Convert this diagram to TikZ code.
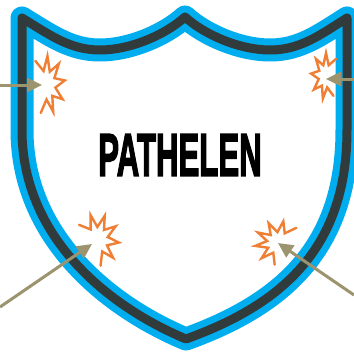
\documentclass[tikz,border=0pt]{standalone}
\usepackage{fontspec}
\usetikzlibrary{arrows.meta}
\newfontfamily\titlefont{Liberation Sans}[BoldFeatures={FakeBold=3}]
\definecolor{shieldblue}{HTML}{00AEEF}
\definecolor{shielddark}{HTML}{323B3B}
\definecolor{burstorange}{HTML}{EE7F35}
\definecolor{arrowolive}{HTML}{9B946E}
\tikzset{
  outerline/.style={draw=shieldblue,line width=23pt,line join=round,line cap=round},
  innerline/.style={draw=shielddark,line width=9pt,line join=round,line cap=round},
  burst/.style={draw=burstorange,line width=2.4pt,line join=miter,line cap=round},
  hitarrow/.style={draw=arrowolive,line width=3pt,-{Triangle[length=15pt,width=14pt]}},
}
\newcommand{\starburst}[6]{% cx cy rx ry start sweep
  \draw[burst] plot[samples at={0,...,12},variable=\t]
   ({#1+(mod(\t,2)==0 ? 1 : 0.5)*#3*cos(#5+\t*#6/12)},
    {#2+(mod(\t,2)==0 ? 1 : 0.5)*#4*sin(#5+\t*#6/12)});
}
\begin{document}
\begin{tikzpicture}[x=1pt,y=-1pt]
\useasboundingbox (0,0) rectangle (354,354);
\fill[white] (0,0) rectangle (354,354);
\def\shieldpath{(22,18) .. controls (50,35) and (70,50) .. (100,50)
  .. controls (130,50) and (165,35) .. (185,17)
  .. controls (205,35) and (240,50) .. (270,50)
  .. controls (300,50) and (320,35) .. (347,18)
  -- (347,130) .. controls (347,250) and (280,305) .. (186,339)
  .. controls (105,305) and (22,235) .. (22,130) -- cycle}
\path[outerline] \shieldpath;
\path[innerline] \shieldpath;
\node (title) at (180,155) {\titlefont\bfseries\fontsize{60}{64}\selectfont\scalebox{0.52}[1]{PATHELEN}};
\starburst{46}{85}{19}{29}{236}{230}
\starburst{326}{76}{15}{23}{-48}{-252}
\starburst{97}{240}{22}{26}{215.6}{225}
\starburst{279}{243}{24}{22}{-43.6}{-216}
\coordinate (a1s) at (0,85);   \coordinate (a1e) at (42,85);
\coordinate (a2s) at (354,79); \coordinate (a2e) at (326,79);
\coordinate (a3s) at (0,307);  \coordinate (a3e) at (92,244);
\coordinate (a4s) at (354,295);\coordinate (a4e) at (278,243);
\draw[hitarrow] (a1s) -- (a1e);
\draw[hitarrow] (a2s) -- (a2e);
\draw[hitarrow] (a3s) -- (a3e);
\draw[hitarrow] (a4s) -- (a4e);
\end{tikzpicture}
\end{document}
